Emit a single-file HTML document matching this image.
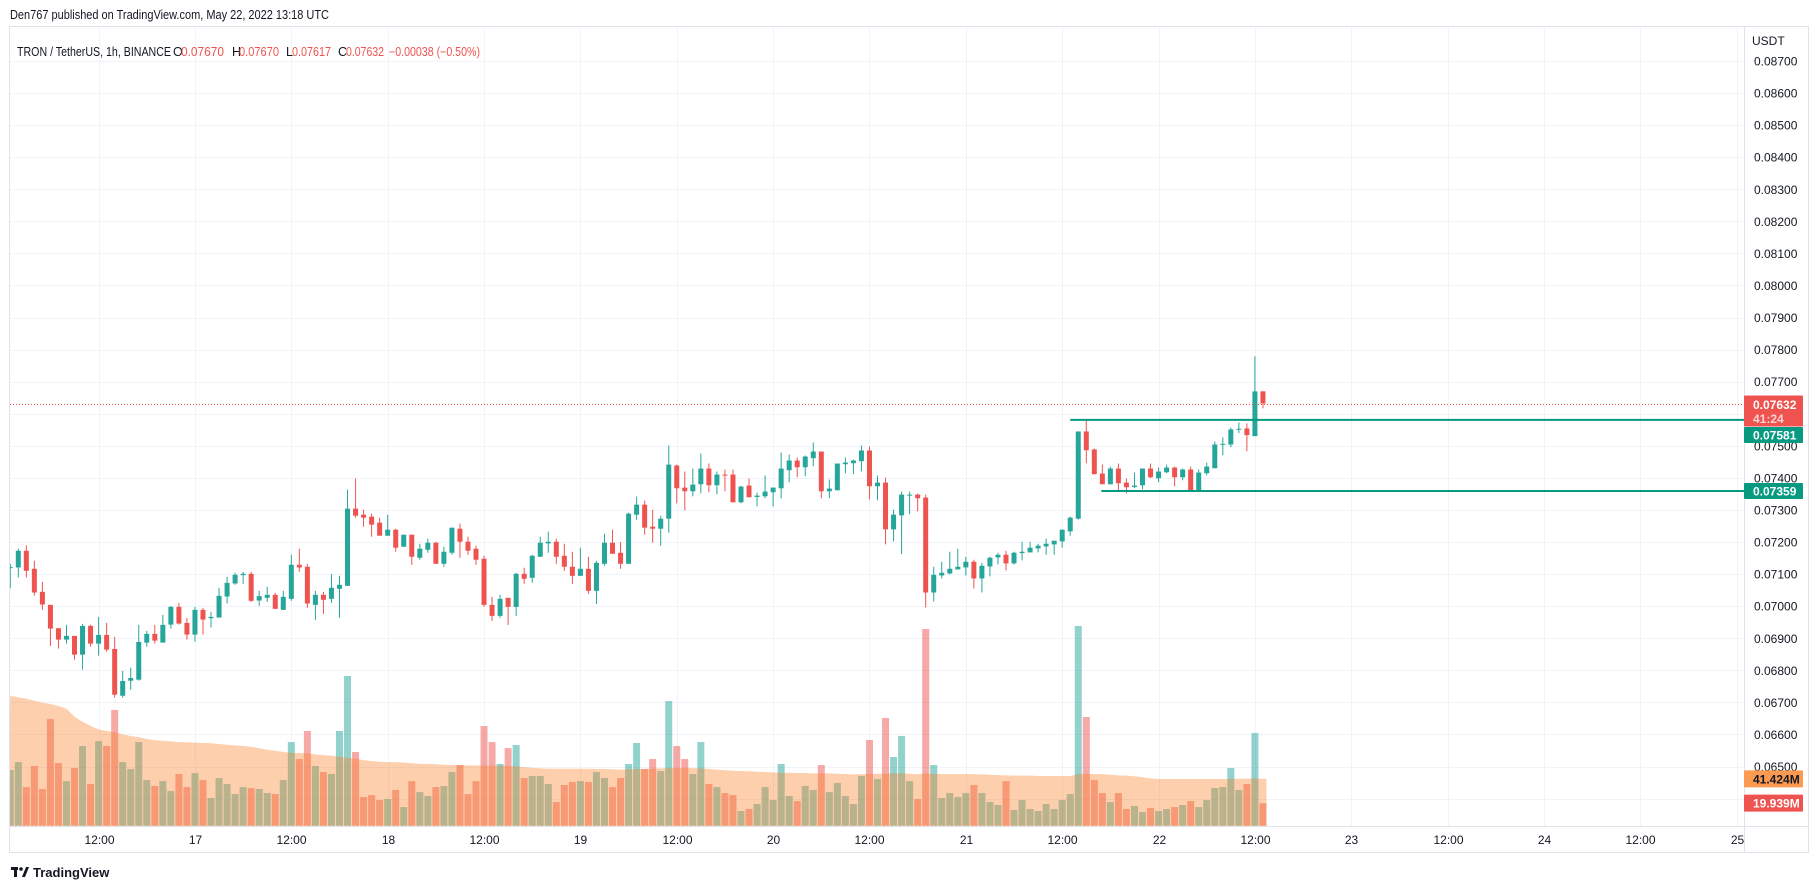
<!DOCTYPE html>
<html><head><meta charset="utf-8"><style>
html,body{margin:0;padding:0;background:#fff;}
svg{display:block;font-family:"Liberation Sans",Arial,sans-serif;}
</style></head><body>
<svg id="chart" width="1820" height="889" viewBox="0 0 1820 889" xmlns="http://www.w3.org/2000/svg">
<defs><clipPath id="plotClip"><rect x="10" y="27" width="1734" height="799"/></clipPath></defs>
<text x="10" y="19" font-size="12.5" fill="#131722" textLength="319" lengthAdjust="spacingAndGlyphs">Den767 published on TradingView.com, May 22, 2022 13:18 UTC</text>
<rect x="9.5" y="26.5" width="1799" height="826" fill="#fff" stroke="#e0e3eb"/>
<g id="grid"></g>
<g id="vol" clip-path="url(#plotClip)"></g>
<g id="candles" clip-path="url(#plotClip)"></g>
<g id="over"></g>
<line x1="1744.5" y1="26" x2="1744.5" y2="853" stroke="#e0e3eb"/>
<line x1="9" y1="826.5" x2="1809" y2="826.5" stroke="#e0e3eb"/>
<g id="axes"></g>
<g font-size="12.5">
<text x="17" y="56" fill="#131722" textLength="154" lengthAdjust="spacingAndGlyphs">TRON / TetherUS, 1h, BINANCE</text>
<text x="173" y="56" fill="#131722">O</text><text x="181" y="56" fill="#ef5350" textLength="43" lengthAdjust="spacingAndGlyphs">0.07670</text>
<text x="232" y="56" fill="#131722">H</text><text x="239" y="56" fill="#ef5350" textLength="40" lengthAdjust="spacingAndGlyphs">0.07670</text>
<text x="286" y="56" fill="#131722">L</text><text x="292" y="56" fill="#ef5350" textLength="39" lengthAdjust="spacingAndGlyphs">0.07617</text>
<text x="338" y="56" fill="#131722">C</text><text x="346" y="56" fill="#ef5350" textLength="38" lengthAdjust="spacingAndGlyphs">0.07632</text>
<text x="389" y="56" fill="#ef5350" textLength="91" lengthAdjust="spacingAndGlyphs">−0.00038 (−0.50%)</text>
</g>
<g>
<rect x="11" y="867" width="7" height="3" fill="#131722"/><rect x="14" y="867" width="3" height="10" fill="#131722"/>
<circle cx="21" cy="869" r="1.8" fill="#131722"/><polygon points="22,877 26,867 29,867 25,877" fill="#131722"/>
<text x="33" y="877" font-size="13" font-weight="bold" fill="#131722">TradingView</text>
</g>
</svg>
<script>
// Prices in thousandths of USDT (e.g. 71.208 => 0.071208), hourly from May 16 01:00
const opens=[71.219,71.208,71.729,71.167,70.448,70.042,69.313,68.958,69.073,68.490,69.385,68.833,69.104,68.667,67.208,67.677,67.708,68.865,69.135,68.865,69.427,69.979,69.479,69.115,69.885,69.625,69.646,70.302,70.708,70.969,71.010,70.177,70.260,70.354,69.885,70.229,71.292,71.229,70.042,70.354,70.229,70.542,70.635,73.042,72.854,72.792,72.604,72.198,72.385,71.854,72.229,71.510,71.760,71.979,71.323,71.666,72.416,72.010,71.791,71.479,70.041,69.698,70.260,69.979,71.010,70.885,71.541,71.958,72.010,71.572,71.229,70.947,71.166,70.479,71.322,71.979,71.666,71.322,72.854,73.166,72.479,72.416,72.729,74.386,73.698,73.583,73.802,74.292,73.771,74.104,74.104,73.240,73.761,73.406,73.427,73.552,73.677,74.240,74.542,74.333,74.615,74.823,73.583,73.615,74.427,74.458,74.521,74.854,73.740,73.854,72.396,72.833,73.458,73.479,73.386,70.427,70.958,71.021,71.146,71.209,71.386,70.865,71.240,71.521,71.604,71.334,71.656,71.677,71.802,71.865,71.927,72.021,72.334,72.729,75.448,74.886,74.136,73.802,74.292,73.854,73.719,73.771,74.292,73.990,74.177,74.323,74.021,74.261,73.594,74.146,74.302,75.032,75.042,75.511,75.542,75.302,76.700];
const highs=[71.323,71.792,71.896,71.417,70.760,70.042,69.313,69.417,69.073,69.448,69.417,69.667,69.479,69.042,67.979,68.083,69.417,69.229,69.417,69.729,70.010,70.104,69.635,69.979,69.948,69.823,70.573,70.917,71.042,71.073,71.073,70.479,70.604,70.417,70.479,71.604,71.792,71.323,70.479,70.448,71.010,70.948,73.635,73.979,73.010,72.885,72.760,72.854,72.417,72.229,72.229,71.948,72.104,72.010,71.854,72.448,72.573,72.166,71.885,71.573,70.291,70.354,70.260,71.041,71.198,71.604,72.166,72.322,72.104,71.947,71.697,71.822,71.541,71.416,72.260,72.385,72.010,72.916,73.416,73.291,73.010,72.822,75.010,74.417,74.198,74.292,74.761,74.448,74.198,74.261,74.261,73.761,73.979,73.542,74.073,73.698,74.792,74.729,74.636,74.698,75.104,74.823,73.948,74.448,74.636,74.573,75.011,74.979,74.073,74.011,73.011,73.573,73.573,73.511,73.479,71.229,71.386,71.698,71.792,71.542,71.448,71.354,71.542,71.667,71.729,71.698,72.011,72.011,71.948,72.104,72.042,72.386,72.792,75.448,75.823,74.917,74.417,74.354,74.448,73.979,74.167,74.292,74.448,74.323,74.417,74.354,74.292,74.354,74.261,74.479,75.136,75.261,75.573,75.729,75.698,77.792,76.700];
const lows=[70.563,70.896,70.896,70.333,69.885,68.760,68.677,68.833,68.333,68.021,68.740,68.458,68.583,67.146,67.146,67.396,67.677,68.740,68.833,68.865,69.302,69.427,68.958,68.896,69.115,69.333,69.646,70.083,70.667,70.698,70.135,70.010,70.135,69.917,69.885,70.167,71.073,69.948,69.573,69.760,70.104,69.635,70.635,72.760,72.479,72.167,72.198,72.198,71.698,71.854,71.292,71.448,71.667,71.323,71.229,71.604,71.510,71.604,71.291,69.979,69.541,69.635,69.416,69.698,70.698,70.729,71.541,71.666,71.322,71.104,70.697,70.947,70.385,70.073,71.260,71.635,71.166,71.322,72.697,72.229,71.979,71.885,72.291,73.208,72.990,73.427,73.521,73.552,73.490,73.583,73.240,73.208,73.396,73.115,73.365,73.115,73.365,73.865,74.021,74.052,74.365,73.365,73.365,73.615,74.146,74.115,74.208,73.333,73.302,71.927,72.021,71.625,72.865,72.958,69.959,70.146,70.865,70.990,71.146,70.958,70.552,70.427,70.927,71.302,71.115,71.302,71.427,71.677,71.677,71.604,71.604,71.823,72.198,72.698,74.459,74.115,73.802,73.802,73.583,73.521,73.677,73.646,73.990,73.865,74.146,73.740,73.927,73.594,73.594,74.083,74.302,74.709,74.959,75.396,74.834,75.302,76.170];
const closes=[71.219,71.729,71.104,70.427,70.052,69.302,68.958,69.073,68.490,69.385,68.833,69.104,68.646,67.240,67.667,67.760,68.885,69.135,68.927,69.417,69.979,69.458,69.115,69.885,69.583,69.667,70.323,70.729,70.979,71.010,70.167,70.313,70.354,69.917,70.292,71.292,71.208,70.083,70.354,70.198,70.573,70.667,73.042,72.823,72.760,72.542,72.198,72.385,71.823,72.229,71.542,71.792,71.979,71.323,71.698,72.448,72.010,71.729,71.448,70.041,69.698,70.229,69.979,71.010,70.854,71.572,71.979,72.010,71.541,71.229,70.947,71.166,70.479,71.354,71.979,71.635,71.322,72.885,73.166,72.448,72.416,72.729,74.416,73.677,73.583,73.792,74.292,73.771,74.104,74.083,73.240,73.729,73.396,73.448,73.573,73.698,74.292,74.542,74.333,74.667,74.823,73.583,73.667,74.448,74.479,74.542,74.854,73.740,73.854,72.396,72.854,73.479,73.479,73.365,70.427,70.979,71.042,71.167,71.229,71.386,70.865,71.261,71.511,71.604,71.334,71.667,71.698,71.823,71.886,71.948,72.042,72.386,72.761,75.448,74.865,74.115,73.802,74.292,73.834,73.709,73.761,74.292,74.021,74.198,74.323,74.021,74.261,73.594,74.167,74.354,75.042,75.063,75.511,75.532,75.334,76.698,76.320];
// Volume in millions
const volumes=[49.3,56.3,34.2,52.8,32.5,94.4,55.5,39.5,51.0,70.5,36.9,74.9,70.5,102.4,56.3,50.2,74.0,40.4,35.1,39.5,30.7,45.7,34.2,46.6,40.4,24.5,42.2,36.9,28.0,34.2,33.3,32.5,28.9,28.0,40.4,74.0,59.0,83.8,52.8,47.5,45.7,83.8,132.5,65.2,25.4,27.1,22.7,23.6,31.6,16.5,39.5,29.8,26.3,34.2,35.1,47.5,53.7,28.0,39.5,88.2,74.0,54.6,68.7,71.4,42.2,44.0,44.0,36.9,20.9,36.0,38.6,39.5,38.6,47.5,42.2,34.2,42.2,54.6,73.2,50.2,59.0,48.4,110.3,70.5,59.0,45.7,74.0,36.9,34.2,28.9,27.1,13.0,14.8,19.2,34.2,22.7,54.6,26.3,21.8,35.1,31.6,53.7,29.8,37.8,26.3,19.2,44.0,75.8,41.3,95.3,60.8,79.4,39.5,23.6,174.1,53.7,24.5,28.9,25.4,28.9,36.0,28.9,20.9,18.3,39.5,13.9,22.7,14.8,13.0,19.2,14.8,22.7,28.0,176.7,96.2,40.4,28.9,20.9,28.9,14.8,17.4,12.1,15.6,13.0,14.8,16.5,18.3,21.8,16.5,22.7,33.3,34.2,51.0,31.6,36.9,82.0,19.939];
const volumeMA=[114.8,113.6,112.4,110.6,108.9,107.7,105.9,103.5,96.5,92.0,88.2,85.3,83.8,82.6,80.8,79.4,78.2,76.7,75.8,75.2,74.6,74.0,73.8,73.5,73.2,72.9,72.3,71.7,71.1,70.5,69.9,68.4,67.3,66.4,65.2,64.6,64.3,64.0,63.1,62.5,62.0,61.1,60.2,59.3,58.1,57.2,56.6,56.3,56.1,55.8,55.2,54.9,54.6,54.3,54.0,53.7,53.7,53.4,53.4,53.4,53.1,53.1,52.8,52.5,51.9,51.3,50.7,50.4,50.4,50.4,50.4,50.4,50.4,50.2,50.2,49.9,49.6,49.9,50.2,50.2,50.4,50.7,51.0,51.0,51.0,51.0,50.7,50.2,49.6,49.0,48.7,48.4,48.1,47.8,47.5,47.2,46.9,46.9,46.6,46.6,46.3,46.3,46.3,46.0,45.7,45.4,45.7,45.7,46.0,46.0,46.3,46.3,46.0,45.4,46.3,46.0,45.7,45.7,45.7,45.7,45.7,45.4,45.1,44.8,44.5,44.3,44.3,44.3,44.0,44.0,44.0,44.0,44.0,45.7,46.0,45.7,45.7,45.1,44.5,44.3,43.7,42.8,41.9,41.3,41.3,41.3,41.3,41.3,41.3,41.3,41.3,41.3,41.6,41.6,41.6,41.9,41.424];
const priceTicks=[65,66,67,68,69,70,71,72,73,74,75,76,77,78,79,80,81,82,83,84,85,86,87];
const timeLabels=["12:00","17","12:00","18","12:00","19","12:00","20","12:00","21","12:00","22","12:00","23","12:00","24","12:00","25"];
const lastPrice=76.32, resistance=75.81, support=73.59, resistanceStart=132, supportStart=136;
const lastVolume=19.939, lastVolumeMA=41.424;

const NS="http://www.w3.org/2000/svg";
function mk(tag,attrs,parent,text){const e=document.createElementNS(NS,tag);for(const k in attrs)e.setAttribute(k,attrs[k]);if(text!==undefined)e.textContent=text;parent.appendChild(e);return e;}
const yP=m=>61+(87-m)*32.07;
const xC=k=>10.27+8.03*k;
const yV=v=>825.7-v/0.885;
const fmt=m=>(m/1000).toFixed(5);

const grid=document.getElementById('grid'),vol=document.getElementById('vol'),cg=document.getElementById('candles'),over=document.getElementById('over'),axes=document.getElementById('axes');

for(const t of [...priceTicks,64]){const y=Math.round(yP(t))+0.5;
const gl=mk('line',{x1:10,x2:1744,y1:y,y2:y,stroke:'#f0f3fa'},grid);

}
for(const t of priceTicks){
const lb=mk('text',{x:1754,y:yP(t)+4.5,'font-size':12,fill:'#131722'},axes,fmt(t));

}
const unit=mk('text',{x:1752,y:45,'font-size':12,fill:'#131722'},axes,'USDT');


timeLabels.forEach((s,j)=>{const x=Math.round(xC(11+12*j))+0.5;
const gl=mk('line',{x1:x,x2:x,y1:27,y2:826,stroke:'#f0f3fa'},grid);


const lb=mk('text',{x:x,y:844,'font-size':12,fill:'#131722','text-anchor':'middle'},axes,s);

});

volumes.forEach((v,k)=>{const up=closes[k]>=opens[k];const y=yV(v);
const b=mk('rect',{x:xC(k)-3.5,y:y,width:7,height:825.7-y,fill:up?'rgba(38,166,154,0.5)':'rgba(239,83,80,0.5)'},vol);

});
let d='M'+(xC(0)-4)+' 826';
volumeMA.forEach((v,k)=>{d+=' L'+xC(k).toFixed(1)+' '+yV(v).toFixed(1);});
d+=' L'+(xC(volumeMA.length-1)+3.5)+' '+yV(volumeMA[volumeMA.length-1]).toFixed(1)+' L'+(xC(volumeMA.length-1)+3.5)+' 826 Z';
const area=mk('path',{d:d,fill:'rgba(250,130,40,0.38)'},vol);



opens.forEach((o,k)=>{const c=closes[k],up=c>=o,col=up?'#26a69a':'#ef5350',x=xC(k);
const g=mk('g',{},cg);


mk('line',{x1:x,x2:x,y1:yP(highs[k]),y2:yP(lows[k]),stroke:col,'stroke-width':1},g);
const t=yP(Math.max(o,c)),b=yP(Math.min(o,c));
mk('rect',{x:x-2.5,y:t,width:5,height:Math.max(1,b-t),fill:col},g);});

const ly=Math.round(yP(lastPrice))+0.5;
const dl=mk('line',{x1:10,x2:1744,y1:ly,y2:ly,stroke:'#ef5350','stroke-dasharray':'1 2'},over);


const rl=mk('line',{x1:xC(resistanceStart),x2:1744,y1:yP(resistance),y2:yP(resistance),stroke:'#089981','stroke-width':2},over);


const sl=mk('line',{x1:xC(supportStart)-1,x2:1744,y1:yP(support),y2:yP(support),stroke:'#089981','stroke-width':2},over);



function badge(name,yc,h,fill,txt,tcol,sub){
const g=mk('g',{},axes);


mk('rect',{x:1744,y:yc-h/2,width:59,height:h,fill:fill,rx:1},g);
if(sub){mk('text',{x:1753,y:yc-2,'font-size':12,'font-weight':'bold',fill:tcol},g,txt);
mk('text',{x:1753,y:yc+12,'font-size':12,'font-weight':'bold',fill:'#fcd4d3'},g,sub);}
else mk('text',{x:1753,y:yc+4.5,'font-size':12,'font-weight':'bold',fill:tcol},g,txt);}
badge('last-price-badge',411,31,'#ef5350',fmt(lastPrice),'#fff','41:24');
badge('resistance-badge',435,16,'#089981',fmt(resistance),'#fff');
badge('support-badge',491,16,'#089981',fmt(support),'#fff');
badge('volume-ma-badge',yV(lastVolumeMA),17,'#fb9a50',lastVolumeMA.toFixed(3)+'M','#131722');
badge('volume-badge',yV(lastVolume),17,'#ef5350',lastVolume.toFixed(3)+'M','#fff');
</script>
</body></html>
